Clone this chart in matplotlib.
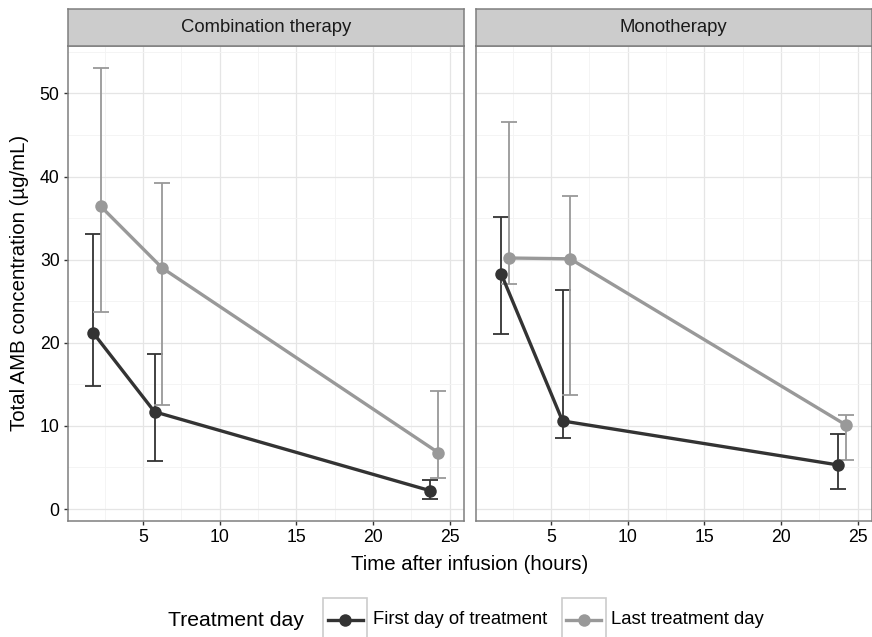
import numpy as np
import matplotlib
matplotlib.use("Agg")
import matplotlib.pyplot as plt
from matplotlib.patches import Rectangle
from matplotlib.lines import Line2D

plt.rcParams['font.family'] = ['Liberation Sans', 'DejaVu Sans']

# sampling times (hours) and mean / error limits per panel
times = [2, 6, 24]
panels = ["Combination therapy", "Monotherapy"]
groups = ["First day of treatment", "Last treatment day"]
colors = ["#333333", "#999999"]
dodge = [-0.25, 0.25]

combo_first = [21.2, 11.7, 2.2]
combo_first_lo = [14.8, 5.8, 1.2]
combo_first_hi = [33.1, 18.7, 3.5]
combo_last = [36.4, 29.0, 6.8]
combo_last_lo = [23.7, 12.5, 3.7]
combo_last_hi = [53.1, 39.2, 14.2]

mono_first = [28.3, 10.6, 5.3]
mono_first_lo = [21.0, 8.6, 2.4]
mono_first_hi = [35.1, 26.4, 9.0]
mono_last = [30.2, 30.1, 10.1]
mono_last_lo = [27.1, 13.7, 5.9]
mono_last_hi = [46.5, 37.7, 11.3]

data = {
    "Combination therapy": [(combo_first, combo_first_lo, combo_first_hi),
                            (combo_last, combo_last_lo, combo_last_hi)],
    "Monotherapy": [(mono_first, mono_first_lo, mono_first_hi),
                    (mono_last, mono_last_lo, mono_last_hi)],
}

W, H = 872, 637
fig = plt.figure(figsize=(W / 100, H / 100), dpi=100)


def fx(px):
    return px / W


def fy(py):
    return 1 - py / H


panel_top, panel_bot = 46, 520.7
strip_top = 9
lefts = [67.5, 475.5]
width = 396.3

for i, name in enumerate(panels):
    x0 = lefts[i]
    ax = fig.add_axes([fx(x0), fy(panel_bot), width / W, (panel_bot - panel_top) / H])
    for j in range(2):
        mean, lo, hi = [np.array(v) for v in data[name][j]]
        xs = np.array(times) + dodge[j]
        ax.errorbar(xs, mean, yerr=[mean - lo, hi - mean], fmt='none',
                    ecolor=colors[j], elinewidth=1.3, capsize=5.5, capthick=1.3, zorder=2 + j)
    for j in range(2):
        mean = data[name][j][0]
        xs = np.array(times) + dodge[j]
        ax.plot(xs, mean, color=colors[j], lw=2.4, zorder=4 + j, solid_capstyle='butt')
    for j in range(2):
        mean = data[name][j][0]
        xs = np.array(times) + dodge[j]
        ax.plot(xs, mean, 'o', color=colors[j], ms=9, mew=0, zorder=6 + j)

    ax.set_xlim(0.075, 25.925)
    ax.set_ylim(-1.4, 55.7)
    ax.set_xticks([5, 10, 15, 20, 25])
    ax.set_xticks([2.5, 7.5, 12.5, 17.5, 22.5], minor=True)
    ax.set_yticks([0, 10, 20, 30, 40, 50])
    ax.set_yticks([5, 15, 25, 35, 45, 55], minor=True)
    ax.grid(which='major', color='#E5E5E5', lw=0.9, zorder=0)
    ax.grid(which='minor', color='#F3F3F3', lw=0.6, zorder=0)
    ax.set_axisbelow(True)
    ax.tick_params(which='major', length=3.2, width=1.0, color='#333333',
                   labelsize=12.7, labelcolor='black', pad=2.5)
    ax.tick_params(which='minor', length=0)
    if i > 0:
        ax.tick_params(axis='y', which='both', length=0, labelleft=False)
    for s in ax.spines.values():
        s.set_color('#7F7F7F')
        s.set_linewidth(1.1)

    # facet strip
    sax = fig.add_axes([fx(x0), fy(panel_top), width / W, (panel_top - strip_top) / H])
    sax.set_facecolor('#CCCCCC')
    sax.set_xticks([])
    sax.set_yticks([])
    for s in sax.spines.values():
        s.set_color('#7F7F7F')
        s.set_linewidth(1.1)
    sax.text(0.5, 0.5, name, ha='center', va='center', fontsize=13.3, color='#1A1A1A',
             transform=sax.transAxes)

fig.text(fx(469.5), fy(565), "Time after infusion (hours)", ha='center', va='center', fontsize=14.7)
fig.text(fx(20), fy(283.4), "Total AMB concentration (µg/mL)", ha='center', va='center',
         rotation=90, fontsize=14.7)

# legend at the bottom
leg_y = 620
fig.text(fx(168), fy(leg_y), "Treatment day", ha='left', va='center', fontsize=15.2)
box_lefts = [323, 561.7]
for j in range(2):
    bx = box_lefts[j]
    fig.add_artist(Rectangle((fx(bx), fy(leg_y + 22)), 44 / W, 44 / H, transform=fig.transFigure,
                             facecolor='white', edgecolor='#CCCCCC', lw=1.2))
    fig.add_artist(Line2D([fx(bx + 4.5), fx(bx + 39.5)], [fy(leg_y), fy(leg_y)],
                          transform=fig.transFigure, color=colors[j], lw=2.4))
    fig.add_artist(Line2D([fx(bx + 22)], [fy(leg_y)], transform=fig.transFigure,
                          marker='o', ms=9, mew=0, color=colors[j]))
    fig.text(fx(bx + 49.5), fy(leg_y), groups[j], ha='left', va='center', fontsize=13.3)

fig.savefig('out.png', dpi=100)
